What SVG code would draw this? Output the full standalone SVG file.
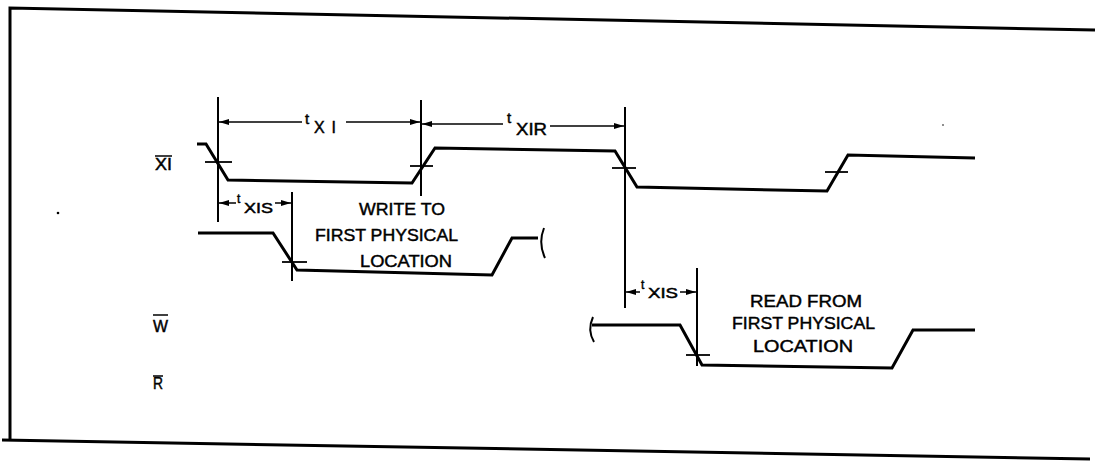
<svg xmlns="http://www.w3.org/2000/svg" width="1095" height="461" viewBox="0 0 1095 461">
<style>
.wave{fill:none;stroke:#000;stroke-width:3;stroke-linejoin:miter}
.tick{stroke:#000;stroke-width:1.8}
.ref{stroke:#000;stroke-width:2}
.dim{stroke:#000;stroke-width:1.5;fill:none}
.border{stroke:#000;stroke-width:3;fill:none}
text{font-family:"Liberation Sans",Arial,sans-serif;fill:#000;stroke:#000;stroke-width:0.45}
.lbl{font-size:17px}
.sig{font-size:16px}
.tsm{font-size:15px}
.tbig{font-size:16px}
.tsub{font-size:14px}
.over{stroke:#000;stroke-width:1.5}
</style>
<defs>
<marker id="ah" viewBox="0 0 10 6" refX="10" refY="3" markerWidth="10" markerHeight="6" markerUnits="userSpaceOnUse" orient="auto">
<path d="M0,0 L10,3 L0,6 Z" fill="#000"/>
</marker>
</defs>

<g id="frame">
<path class="border" d="M10,440 L10,8 L1095,30"/>
<path class="border" d="M2,440 L1090,459"/>
<circle cx="58" cy="213" r="1.3" fill="#000"/>
<circle cx="943" cy="125" r="0.8" fill="#000"/>
</g>

<g id="labels">
<text class="sig" x="155" y="170" textLength="17" lengthAdjust="spacingAndGlyphs">XI</text>
<line class="over" x1="155" y1="156" x2="172" y2="156"/>
<text class="sig" x="153" y="332" textLength="15" lengthAdjust="spacingAndGlyphs">W</text>
<line class="over" x1="153" y1="315" x2="168" y2="315"/>
<text class="sig" x="153" y="389" textLength="10" lengthAdjust="spacingAndGlyphs">R</text>
<line class="over" x1="153" y1="376" x2="163" y2="376"/>
</g>

<g id="xi-wave">
<path class="wave" d="M197,144 L206,144 L228,180 L412,183 L435,148 L615,151 L637,187 L827,191 L848,155 L975,158"/>
<line class="tick" x1="205" y1="162" x2="232" y2="162"/>
<line class="tick" x1="410" y1="166" x2="433" y2="166"/>
<line class="tick" x1="612" y1="168" x2="636" y2="168"/>
<line class="tick" x1="825" y1="172" x2="848" y2="172"/>
</g>

<g id="w-write-wave">
<path class="wave" d="M198,233 L273,233 L297,270 L492,275 L512,238 L538,238"/>
<path class="dim" style="stroke-width:2" d="M544,228 Q538,243 545,258"/>
<line class="tick" x1="282" y1="262" x2="307" y2="262"/>
</g>

<g id="w-read-wave">
<path class="dim" style="stroke-width:2" d="M593,317 Q587,330 594,342"/>
<path class="wave" d="M592,325 L680,325 L702,365 L892,368 L913,330 L975,330"/>
<line class="tick" x1="686" y1="355" x2="710" y2="355"/>
</g>

<g id="connectors">
<line class="ref" x1="218" y1="97" x2="218" y2="222"/>
<line class="ref" x1="421" y1="100" x2="421" y2="196"/>
<line class="ref" x1="625" y1="107" x2="625" y2="308"/>
<line class="ref" x1="292" y1="192" x2="292" y2="281"/>
<line class="ref" x1="697" y1="268" x2="697" y2="366"/>

<line class="dim" x1="302" y1="122" x2="219" y2="122" marker-end="url(#ah)"/>
<line class="dim" x1="346" y1="122" x2="420" y2="122" marker-end="url(#ah)"/>
<line class="dim" x1="503" y1="124" x2="422" y2="124" marker-end="url(#ah)"/>
<line class="dim" x1="550" y1="126" x2="624" y2="126" marker-end="url(#ah)"/>
<line class="dim" x1="236" y1="203" x2="219" y2="203" marker-end="url(#ah)"/>
<line class="dim" x1="275" y1="203" x2="291" y2="203" marker-end="url(#ah)"/>
<line class="dim" x1="640" y1="292" x2="626" y2="292" marker-end="url(#ah)"/>
<line class="dim" x1="680" y1="292" x2="696" y2="292" marker-end="url(#ah)"/>
</g>

<g id="timing-labels">
<text class="tsm" x="305" y="124">t</text><text class="tbig" x="314" y="133" textLength="22" lengthAdjust="spacing">XI</text>
<text class="tsm" x="507" y="123">t</text><text class="tbig" x="516" y="135" textLength="31" lengthAdjust="spacingAndGlyphs">XIR</text>
<text class="tsm" x="237" y="203" style="font-size:12px">t</text><text class="tsub" x="244" y="213" textLength="29" lengthAdjust="spacingAndGlyphs">XIS</text>
<text class="tsm" x="641" y="289" style="font-size:12px">t</text><text class="tsub" x="648" y="298" textLength="30" lengthAdjust="spacingAndGlyphs">XIS</text>
</g>

<g id="write-note">
<text class="lbl" x="359" y="215" textLength="86" lengthAdjust="spacingAndGlyphs">WRITE TO</text>
<text class="lbl" x="315" y="241" textLength="143" lengthAdjust="spacingAndGlyphs">FIRST PHYSICAL</text>
<text class="lbl" x="360" y="267" textLength="92" lengthAdjust="spacingAndGlyphs">LOCATION</text>
</g>

<g id="read-note">
<text class="lbl" x="750" y="307" textLength="112" lengthAdjust="spacingAndGlyphs">READ FROM</text>
<text class="lbl" x="732" y="329" textLength="143" lengthAdjust="spacingAndGlyphs">FIRST PHYSICAL</text>
<text class="lbl" x="753" y="352" textLength="100" lengthAdjust="spacingAndGlyphs">LOCATION</text>
</g>
</svg>
